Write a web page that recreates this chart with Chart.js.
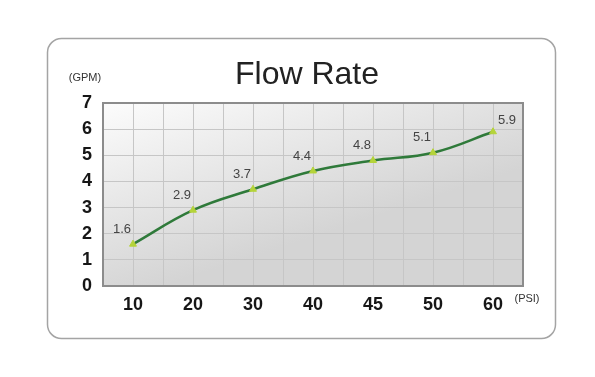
<!DOCTYPE html>
<html>
<head>
<meta charset="utf-8">
<script src="https://cdn.jsdelivr.net/npm/chart.js@4"></script>
<style>
  html, body { margin: 0; padding: 0; background: #fff; }
  #wrap { width: 595px; height: 377px; }
</style>
</head>
<body>
<div id="wrap"><canvas id="flow"></canvas></div>
<script>
// Flow rate (GPM) vs pressure (PSI)
const pressures = ['10', '20', '30', '40', '45', '50', '60'];
const flowRates = [1.6, 2.9, 3.7, 4.4, 4.8, 5.1, 5.9];
const yTicks = [0, 1, 2, 3, 4, 5, 6, 7];

const TITLE = 'Flow Rate';
const Y_UNIT = '(GPM)';
const X_UNIT = '(PSI)';

const FONT = '"Liberation Sans", Arial, sans-serif';
const LINE_GREEN = '#2f7a3a';
const MARK_GREEN = '#b5d43a';

// card, plot background, frame, titles and value labels
const decor = {
    id: 'decor',
    beforeDraw(chart) {
        const { ctx, chartArea: a } = chart;
        ctx.save();
        ctx.fillStyle = '#fff';
        ctx.fillRect(0, 0, chart.width, chart.height);
        ctx.beginPath();
        ctx.roundRect(47.5, 38.5, 508, 300, 14);
        ctx.strokeStyle = '#a4a4a4';
        ctx.lineWidth = 1.5;
        ctx.stroke();
        const g = ctx.createLinearGradient(a.left, a.top, a.left + 60, a.bottom);
        g.addColorStop(0, '#fcfcfc');
        g.addColorStop(1, '#d4d4d4');
        ctx.fillStyle = g;
        ctx.fillRect(a.left, a.top, a.right - a.left, a.bottom - a.top);
        ctx.restore();
    },
    beforeDatasetsDraw(chart) {
        const { ctx, chartArea: a } = chart;
        ctx.save();
        ctx.strokeStyle = '#8c8c8c';
        ctx.lineWidth = 2;
        ctx.strokeRect(a.left, a.top, a.right - a.left, a.bottom - a.top);
        ctx.restore();
    },
    afterDraw(chart) {
        const { ctx, chartArea: a } = chart;
        const xs = chart.scales.x, ys = chart.scales.y;
        ctx.save();
        ctx.textBaseline = 'middle';
        ctx.textAlign = 'center';
        ctx.fillStyle = '#222';
        ctx.font = '32px ' + FONT;
        ctx.fillText(TITLE, 307, 75);
        ctx.fillStyle = '#333';
        ctx.font = '11px ' + FONT;
        ctx.fillText(Y_UNIT, 85, 78);
        ctx.fillText(X_UNIT, 527, 299);
        ctx.font = '13px ' + FONT;
        ctx.fillStyle = '#444';
        flowRates.forEach((v, i) => {
            const px = xs.getPixelForValue(i);
            const py = ys.getPixelForValue(v);
            const last = i === flowRates.length - 1;
            ctx.fillText(v.toFixed(1), px + (last ? 14 : -11), py - (last ? 11 : 15));
        });
        ctx.restore();
    }
};

new Chart(document.getElementById('flow'), {
    type: 'line',
    data: {
        datasets: [{
            label: 'Flow rate',
            data: flowRates.map((v, i) => ({ x: i, y: v })),
            borderColor: LINE_GREEN,
            borderWidth: 2.5,
            tension: 0.4,
            pointStyle: 'triangle',
            pointRadius: 4,
            pointBackgroundColor: MARK_GREEN,
            pointBorderColor: MARK_GREEN,
            pointBorderWidth: 1
        }]
    },
    options: {
        responsive: true,
        maintainAspectRatio: false,
        animation: false,
        layout: { padding: { left: 55, right: 72, top: 103, bottom: 61 } },
        plugins: { legend: { display: false }, tooltip: { enabled: false } },
        scales: {
            x: {
                type: 'linear',
                min: -0.5,
                max: pressures.length - 0.5,
                afterFit: s => { s.height = 30; },
                afterBuildTicks: s => {
                    s.ticks = [];
                    for (let k = 0; k <= pressures.length * 2; k++) s.ticks.push({ value: -0.5 + k / 2 });
                },
                ticks: {
                    autoSkip: false,
                    maxRotation: 0,
                    padding: 8,
                    color: '#161616',
                    font: { family: FONT, size: 18, weight: 'bold' },
                    callback: v => Number.isInteger(v) ? pressures[v] : ''
                },
                grid: { color: '#c6c6c6', lineWidth: 1, drawTicks: false },
                border: { display: false }
            },
            y: {
                min: yTicks[0],
                max: yTicks[yTicks.length - 1],
                afterFit: s => { s.width = 48; },
                afterBuildTicks: s => { s.ticks = yTicks.map(v => ({ value: v })); },
                ticks: {
                    padding: 11,
                    color: '#161616',
                    font: { family: FONT, size: 18, weight: 'bold' }
                },
                grid: { color: '#c6c6c6', lineWidth: 1, drawTicks: false },
                border: { display: false }
            }
        }
    },
    plugins: [decor]
});
</script>
</body>
</html>
